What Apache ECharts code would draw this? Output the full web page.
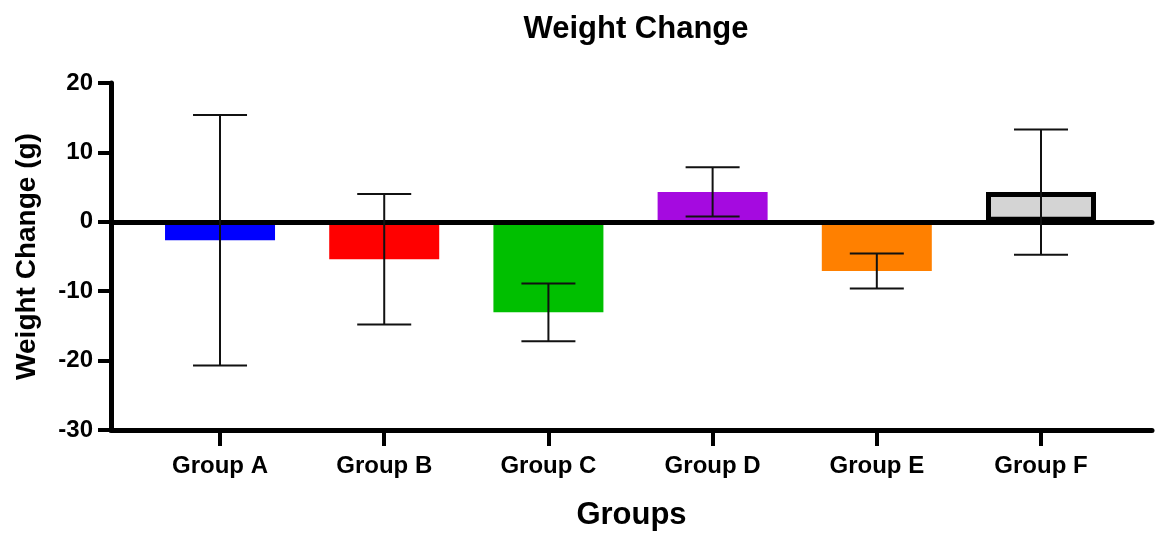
<!DOCTYPE html>
<html>
<head>
<meta charset="utf-8">
<script src="https://cdn.jsdelivr.net/npm/echarts@6/dist/echarts.min.js"></script>
<style>html,body{margin:0;padding:0;background:#fff;}#chart{width:1155px;height:533px;}</style>
</head>
<body>
<div id="chart"></div>
<script>
const categories = ['Group A', 'Group B', 'Group C', 'Group D', 'Group E', 'Group F'];
const means = [-2.65, -5.4, -13.05, 4.3, -7.1, 4.3];
const errLow = [-20.7, -14.8, -17.2, 0.76, -9.6, -4.75];
const errHigh = [15.4, 4.0, -8.9, 7.87, -4.56, 13.3];
const barColors = ['#0000ff', '#ff0000', '#00bf00', '#a50ae0', '#ff8000', '#d4d4d4'];
const yTicks = [-30, -20, -10, 0, 10, 20];

const positions = categories.map((c, i) => i);
const FONT = '"Liberation Sans", Arial, sans-serif';

const barData = categories.map((c, i) => ({
  value: [i, means[i]],
  itemStyle: i === 5
    ? { color: barColors[i], borderColor: '#000', borderWidth: 5 }
    : { color: barColors[i] }
}));
const errData = categories.map((c, i) => [i, errLow[i], errHigh[i]]);

const chart = echarts.init(document.getElementById('chart'), null, { renderer: 'canvas' });
chart.setOption({
  animation: false,
  backgroundColor: '#fff',
  title: {
    text: 'Weight Change',
    left: 631, textAlign: 'center', top: 9,
    textStyle: { fontFamily: FONT, fontWeight: 'bold', fontSize: 31, color: '#000' }
  },
  grid: { left: 111, right: 3, top: 83, bottom: 103, containLabel: false, outerBoundsMode: 'none' },
  xAxis: [{
    type: 'value', min: -0.664, max: 5.676,
    position: 'bottom',
    splitLine: { show: false },
    axisLine: { onZero: false, lineStyle: { color: '#000', width: 5 } },
    axisTick: { show: true, customValues: positions, length: 16, lineStyle: { color: '#000', width: 4 } },
    axisLabel: {
      customValues: positions, margin: 24,
      formatter: v => categories[Math.round(v)] || '',
      fontFamily: FONT, fontWeight: 'bold', fontSize: 24, color: '#000'
    },
    name: 'Groups', nameLocation: 'middle', nameGap: 70,
    nameTextStyle: { fontFamily: FONT, fontWeight: 'bold', fontSize: 31, color: '#000' }
  }, {
    type: 'value', min: -0.664, max: 5.676,
    position: 'top',
    z: 3,
    splitLine: { show: false },
    axisLine: { onZero: true, lineStyle: { color: '#000', width: 5 } },
    axisTick: { show: false },
    axisLabel: { show: false }
  }],
  yAxis: {
    type: 'value', min: -30, max: 20, interval: 10,
    splitLine: { show: false },
    axisLine: { show: true, onZero: false, lineStyle: { color: '#000', width: 5 } },
    axisTick: { show: true, length: 13, lineStyle: { color: '#000', width: 4 } },
    axisLabel: {
      margin: 18,
      fontFamily: FONT, fontWeight: 'bold', fontSize: 24, color: '#000'
    },
    name: 'Weight Change (g)', nameLocation: 'middle', nameGap: 70,
    nameTextStyle: { fontFamily: FONT, fontWeight: 'bold', fontSize: 28, color: '#000' }
  },
  series: [{
    type: 'bar',
    xAxisIndex: 0,
    data: barData,
    barWidth: 110,
    z: 1
  }, {
    type: 'custom',
    xAxisIndex: 0,
    data: errData,
    z: 5,
    renderItem: function (params, api) {
      const x = api.value(0);
      const lo = api.coord([x, api.value(1)]);
      const hi = api.coord([x, api.value(2)]);
      const hw = 27;
      const style = { stroke: '#111', lineWidth: 2 };
      return {
        type: 'group',
        children: [
          { type: 'line', shape: { x1: lo[0], y1: lo[1], x2: hi[0], y2: hi[1] }, style },
          { type: 'line', shape: { x1: hi[0] - hw, y1: hi[1], x2: hi[0] + hw, y2: hi[1] }, style },
          { type: 'line', shape: { x1: lo[0] - hw, y1: lo[1], x2: lo[0] + hw, y2: lo[1] }, style }
        ]
      };
    }
  }]
});
</script>
</body>
</html>
